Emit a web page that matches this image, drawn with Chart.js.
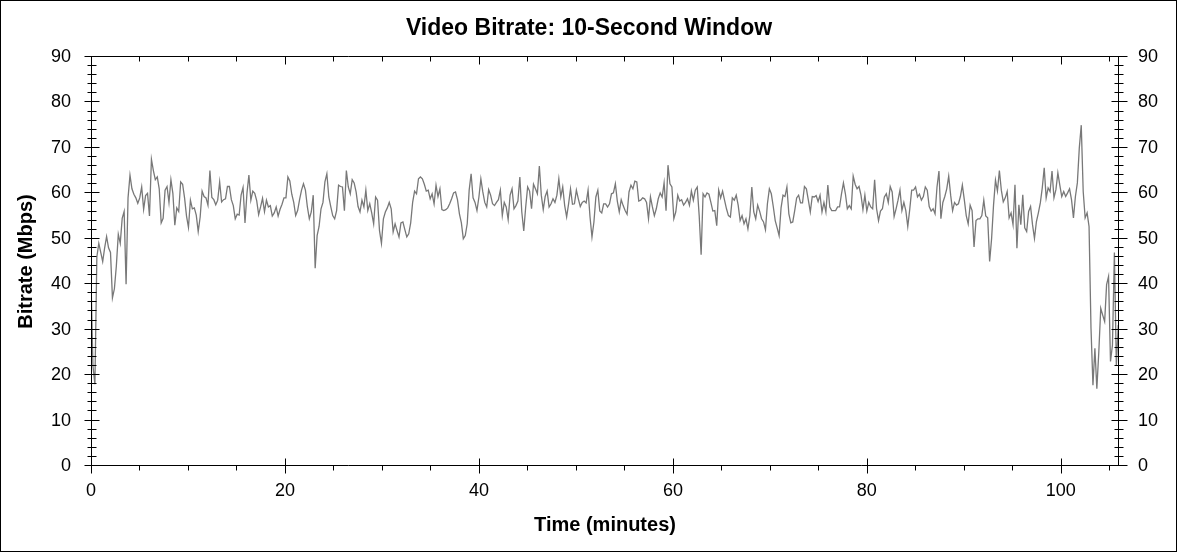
<!DOCTYPE html>
<html>
<head>
<meta charset="utf-8">
<script src="https://cdn.jsdelivr.net/npm/chart.js@4.4.1/dist/chart.umd.min.js"></script>
<style>
  html, body { margin: 0; padding: 0; background: #fff; }
  #wrap { width: 1178px; height: 552px; }
</style>
</head>
<body>
<div id="wrap"><canvas id="chart" width="1178" height="552"></canvas></div>
<script>
// one sample every ~12 s
const STEP_MIN = 0.201;
const TIME_MAX = 106;

const bitrate = [
  41, 22, 18, 46, 49, 47, 45, 48, 50.5, 48,
  47, 37, 39, 44, 51, 49, 54.5, 56, 40, 59,
  64, 61, 59.8, 59, 57.8, 59, 61.4, 56.5, 59.5, 60,
  55, 67.5, 65, 63, 63.6, 61, 53.5, 54.5, 60.7, 61.5,
  58, 63, 60, 53, 56.8, 56, 62.5, 62, 59, 55,
  52.5, 58.5, 56.6, 56.8, 55.2, 51.6, 54.8, 60.5, 59.3, 59,
  57.4, 65, 59.1, 58.6, 57.5, 58.5, 62.5, 58.1, 58.6, 58.8,
  61.5, 61.5, 58.6, 57.3, 54.4, 55.4, 55.2, 59.6, 61.3, 53.5,
  60, 64, 58.5, 60.5, 60, 58.4, 55.3, 57, 58.9, 56,
  // 18 min
  58.5, 57, 57.3, 55, 55.7, 57, 55, 56.5, 57.6, 59,
  59, 63.6, 62.7, 59.8, 58, 55.1, 56.2, 58.6, 60.7, 62.1,
  60.7, 57, 54.4, 55.9, 59.6, 43.5, 50.7, 52.7, 56.6, 58,
  62.5, 64.3, 59.2, 57.1, 55.1, 54.4, 56.2, 61.8, 61.5, 61.4,
  56.2, 65, 61.4, 59.9, 63, 62.3, 60.3, 57.1, 55.9, 58.5,
  57, 60.7, 56.2, 57.7, 55.7, 53.3, 59.2, 58.5, 51.8, 49,
  54.4, 55.9, 56.8, 58, 56.6, 51.5, 53.3, 51.8, 50.4, 53.5,
  53.7, 52, 50.4, 51.1, 53.5, 58, 60.5, 59.9, 63.2, 63.6,
  63.2, 62, 60.5, 60.7, 58.8, 59.9, 57.7, 61.8, 59.3, 61, 56.4,
  // 36 min
  56.2, 56.4, 56.8, 57.7, 58.8, 60.1, 60.3, 58.6, 55.5, 53.5,
  50, 50.7, 53.3, 60.7, 64.3, 59, 58, 56.2, 59.2, 63.2,
  60.3, 58, 57, 60.8, 59.6, 57.7, 57.3, 58, 58.6, 60.7,
  55.1, 58, 57, 54.2, 59.6, 61, 56.6, 57.3, 58.3, 63.6,
  55.9, 51.7, 57, 61.4, 60.5, 56.6, 62, 61, 59.9, 66,
  59.6, 56.4, 59.3, 60.5, 57, 57.7, 58.8, 58, 59.6, 63.2,
  59.2, 61.4, 57.3, 54.8, 57.7, 61, 57.6, 57.7, 60.7, 58.8,
  57.1, 58, 58.3, 57.9, 60.7, 54.8, 50.4, 53.7, 59.2, 60.7,
  56.1, 55.7, 57.7, 57.7, 57, 57.7, 59.9, 60.1, 62.1, 58.3,
  55.9, 58.6, 57.3, 56.2, 55.4, 60.3,
  // 55 min
  61.8, 61, 62.7, 62.5, 58.3, 58.5, 59, 58.8, 58, 54.4,
  59.2, 57, 55.1, 56.6, 58.8, 60.1, 59.2, 62.3, 56.2, 66.2,
  62.1, 61.4, 54.4, 55.9, 59.6, 58.3, 58.6, 57.4, 58, 58.8,
  57.4, 60.5, 58.5, 60.7, 61.4, 55.1, 46.5, 59.9, 59.2, 60.1,
  59.8, 58, 56.1, 56.2, 52.9, 60.7, 59, 60.5, 58.5, 56.6,
  55.1, 54.8, 59, 58.5, 59.6, 57.4, 54, 55.1, 53.3, 54.4,
  52.2, 55.1, 61.4, 55.9, 54.4, 57.4, 56.1, 54.4, 53.7, 52,
  57.7, 61, 59.9, 57.1, 54, 52.4, 50.7, 56.8, 59.6, 59.3,
  61.4, 55.5, 53.5, 53.7, 56.2, 59, 59.6, 57.9, 57.9, 61.5,
  61, 58.5, 55.9, 59.3,
  // 74 min
  59.2, 59.5, 58.2, 59.6, 55.9, 58, 55.9, 61.8, 57, 56.2,
  56.2, 56.2, 57, 57, 59.9, 62.3, 59.9, 56.6, 57.3, 56.6,
  63.8, 62, 61, 61.5, 59.6, 56.4, 59.6, 56.1, 58, 57,
  56.6, 63, 56.6, 54, 56.1, 56.6, 59.2, 59.9, 58, 61.5,
  60.3, 54.9, 56.6, 58.5, 60.7, 56.2, 58, 56.2, 52.7, 56.4,
  60.7, 60.7, 61.4, 59.2, 59.8, 58.5, 59.3, 61.4, 60.7, 57.1,
  56.1, 56.6, 55.5, 61.4, 64.9, 54.4, 58, 59.3, 61, 63.8,
  59.6, 56.2, 58, 57.4, 57.7, 59.3, 61.8, 58.6, 55.1, 53.3,
  57.4, 56.2, 48.2, 54, 54.4, 54.4, 55.1, 58.5, 55, 54.6,
  45, 50, 57.4, 62.9, 60.5, 65, 60.7,
  // 94 min
  58.1, 59, 60.4, 54.6, 55.7, 53.1, 61.9, 47.9, 57.5, 53.1,
  59.7, 52.4, 51.6, 56, 57.1, 53.1, 50.1, 53.8, 55.7, 57.9,
  61.2, 65.6, 59, 61.2, 60.4, 64.9, 59, 60.8, 64.5, 61.8,
  59.3, 60.4, 59.3, 60.1, 61, 58.6, 54.6, 59.3, 62.3, 70,
  75, 60.4, 54.6, 55.7, 52.7, 30.3, 17.8, 25.9, 17, 25.1,
  34.7, 33.2, 31.8, 39.9, 41.7, 23, 26.6, 47, 22.2, 31
];

const timeTicks = [0, 20, 40, 60, 80, 100];
const rateTicks = [0, 10, 20, 30, 40, 50, 60, 70, 80, 90];
const MINOR_TIME = 5;
const MINOR_RATE = 2;

const points = bitrate.map((v, i) => ({ x: i * STEP_MIN, y: v }));

const FONT = "'Liberation Sans', Arial, sans-serif";

// box, inner/outer tick marks and the outer border
const frame = {
  id: 'frame',
  afterDraw(chart) {
    const { ctx, chartArea: a, scales } = chart;
    const xs = scales.x, ys = scales.y;
    const L = a.left + 0.5, R = a.right - 0.5, T = a.top - 0.5, B = a.bottom - 0.5;
    ctx.save();
    ctx.strokeStyle = '#000';
    ctx.lineWidth = 1;
    ctx.beginPath();
    ctx.rect(L, T, R - L, B - T);
    for (let v = ys.min; v <= ys.max; v += MINOR_RATE) {
      const y = Math.round(ys.getPixelForValue(v)) - 0.5;
      const major = rateTicks.includes(v);
      const d = major ? 7 : 4;
      ctx.moveTo(L - d, y); ctx.lineTo(L + d + 1, y);
      ctx.moveTo(R - d, y); ctx.lineTo(R + d + (major ? 2 : 1), y);
    }
    for (let v = xs.min; v <= xs.max; v += MINOR_TIME) {
      const x = Math.round(xs.getPixelForValue(v)) + 0.5;
      const major = timeTicks.includes(v);
      if (major) {
        ctx.moveTo(x, B - 7); ctx.lineTo(x, B + 8);
        ctx.moveTo(x, T); ctx.lineTo(x, T + 8);
      } else {
        ctx.moveTo(x, B); ctx.lineTo(x, B + 5);
        ctx.moveTo(x, T); ctx.lineTo(x, T + 5);
      }
    }
    ctx.stroke();
    ctx.strokeRect(0.5, 0.5, chart.width - 2, chart.height - 1);
    ctx.restore();
  }
};

new Chart(document.getElementById('chart'), {
  type: 'line',
  data: {
    datasets: [{
      data: points,
      borderColor: 'rgb(120,120,120)',
      borderWidth: 1.3,
      pointRadius: 0,
      tension: 0,
      fill: false
    }]
  },
  options: {
    responsive: false,
    animation: false,
    devicePixelRatio: 1,
    layout: { padding: 0 },
    plugins: {
      legend: { display: false },
      tooltip: { enabled: false },
      title: {
        display: true,
        text: 'Video Bitrate: 10-Second Window',
        color: '#000',
        font: { family: FONT, size: 23, weight: 'bold', lineHeight: 1.2 },
        padding: { top: 15, bottom: 14.4 }
      }
    },
    scales: {
      x: {
        type: 'linear',
        position: 'bottom',
        min: 0,
        max: TIME_MAX,
        afterBuildTicks: s => { s.ticks = timeTicks.map(v => ({ value: v })); },
        afterFit: s => { s.height = 86; },
        grid: { display: false, drawTicks: false },
        border: { display: false },
        ticks: { color: '#000', padding: 14, maxRotation: 0, font: { family: FONT, size: 18 } },
        title: {
          display: true,
          text: 'Time (minutes)',
          color: '#000',
          font: { family: FONT, size: 20, weight: 'bold', lineHeight: 1.2 },
          padding: { top: 0, bottom: 15 }
        }
      },
      y: {
        type: 'linear',
        position: 'left',
        min: 0,
        max: 90,
        afterBuildTicks: s => { s.ticks = rateTicks.map(v => ({ value: v })); },
        afterFit: s => { s.width = 91; },
        grid: { display: false, drawTicks: false },
        border: { display: false },
        ticks: { color: '#000', padding: 20, font: { family: FONT, size: 18 } },
        title: {
          display: true,
          text: 'Bitrate (Mbps)',
          color: '#000',
          font: { family: FONT, size: 20, weight: 'bold', lineHeight: 1.2 },
          padding: { top: 14.5, bottom: 0 }
        }
      },
      y2: {
        type: 'linear',
        position: 'right',
        min: 0,
        max: 90,
        afterBuildTicks: s => { s.ticks = rateTicks.map(v => ({ value: v })); },
        afterFit: s => { s.width = 59; },
        grid: { display: false, drawTicks: false },
        border: { display: false },
        ticks: { color: '#000', padding: 19, font: { family: FONT, size: 18 } }
      }
    }
  },
  plugins: [frame]
});
</script>
</body>
</html>
